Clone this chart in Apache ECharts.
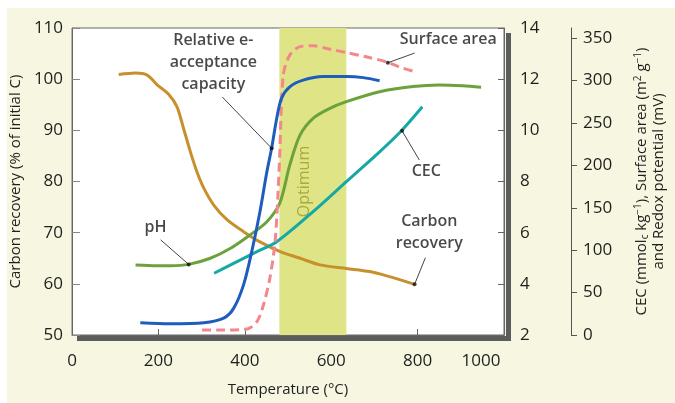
<!DOCTYPE html>
<html>
<head>
<meta charset="utf-8">
<script src="https://cdn.jsdelivr.net/npm/echarts@6/dist/echarts.min.js"></script>
<style>html,body{margin:0;padding:0;background:#fff}#c{width:675px;height:403px}</style>
</head>
<body>
<div id="c"></div>
<script>
// ---- data (temperature in °C) ----
var xTicks = [0, 200, 400, 600, 800, 1000];
var leftTicks = [50, 60, 70, 80, 90, 100, 110];
var phTicks = [2, 4, 6, 8, 10, 12, 14];
var rightTicks = [0, 50, 100, 150, 200, 250, 300, 350];

// Carbon recovery (% of initial C) - left axis
var carbonT = [108, 147, 174, 197, 224, 243, 258, 274, 289, 305, 328, 358, 397, 435, 482, 528, 574, 635, 689, 735, 793];
var carbonV = [100.9, 101.2, 100.8, 98.9, 97.0, 94.6, 90.4, 85.8, 81.9, 78.7, 75.4, 72.6, 70.2, 68.2, 66.3, 65.0, 63.7, 63.0, 62.4, 61.4, 59.9];

// pH - first right axis
var phT = [147, 197, 228, 270, 320, 366, 412, 451, 481, 504, 528, 558, 597, 635, 712, 789, 850, 904, 947];
var phV = [4.74, 4.71, 4.71, 4.76, 5.0, 5.38, 5.91, 6.43, 7.16, 8.64, 9.82, 10.47, 10.86, 11.12, 11.51, 11.71, 11.77, 11.74, 11.68];

// CEC (mmolc/kg) - second right axis
var cecT = [329, 382, 428, 474, 558, 635, 712, 762, 811];
var cecV = [72.8, 86.6, 98.4, 110, 145.4, 180.8, 216, 240.6, 269.2];

// Surface area (m2/g) - second right axis
var saT = [301, 343, 405, 428, 443, 458, 470, 477, 481, 489, 504, 528, 558, 597, 635, 681, 728, 758, 797];
var saV = [5.9, 5.9, 7.1, 15.7, 35.4, 67.2, 110, 169, 216, 306.6, 330, 340, 341, 337, 333, 328, 322, 316, 310];

// Relative e- acceptance capacity (drawn on left-axis scale)
var reaT = [158, 228, 305, 351, 374, 397, 416, 435, 451, 462, 474, 485, 504, 535, 581, 635, 674, 712];
var reaV = [52.4, 52.2, 52.4, 53.3, 55.2, 59.8, 66.3, 74.1, 81.9, 86.5, 92.4, 96.3, 98.5, 99.8, 100.5, 100.5, 100.3, 99.7];

// Optimum range
var optimum = [480, 635];

// Annotations (in temperature / left-axis units)
var annoText = ['Relative e-\nacceptance\ncapacity', 'Surface area', 'CEC', 'Carbon\nrecovery', 'pH'];
var annoPos = [[327, 103.2], [871, 107.7], [820, 81.9], [827, 70.0], [193, 71.1]];
var pointerFrom = [[348, 96.5], [793, 105.1], [804, 84.2], [818, 65.1], [205, 68.6]];
var pointerTo = [[462, 86.5], [731, 103.2], [764, 89.9], [793, 59.9], [270, 63.8]];

function zip(a, b) { return a.map(function (v, i) { return [v, b[i]]; }); }

var FONT = 'Open Sans';
var TXT = '#1e1e1e';
var chart = echarts.init(document.getElementById('c'));
var lineDefaults = { type: 'line', showSymbol: false, smooth: 0.3, z: 3 };

chart.setOption({
  backgroundColor: '#f7f6e1',
  animation: false,
  textStyle: { fontFamily: FONT },
  graphic: [
    { type: 'rect', left: 0, top: 0, shape: { width: 675, height: 8 }, style: { fill: '#fff' } },
    { type: 'rect', left: 0, top: 0, shape: { width: 7, height: 403 }, style: { fill: '#fff' } },
    // drop shadow of the plot frame (bottom and right strips)
    { type: 'rect', left: 77, top: 336, shape: { width: 434, height: 5 }, style: { fill: '#5c5c5c' } },
    { type: 'rect', left: 506, top: 33, shape: { width: 5, height: 308 }, style: { fill: '#5c5c5c' } }
  ],
  grid: {
    left: 72, right: 170, top: 28, bottom: 68,
    show: true, backgroundColor: '#fff', borderColor: '#666', borderWidth: 1
  },
  xAxis: {
    type: 'value', min: 0, max: 1000, interval: 200,
    name: 'Temperature (°C)', nameLocation: 'middle', nameGap: 47,
    nameTextStyle: { fontSize: 15, color: TXT, fontFamily: FONT },
    axisLine: { show: true, lineStyle: { color: '#666' } },
    axisTick: { show: true, inside: true, length: 6, lineStyle: { color: '#666' } },
    splitLine: { show: false },
    axisLabel: {
      margin: 18, fontSize: 17, color: TXT, fontFamily: FONT,
      formatter: function (v) { return v === 1000 ? '{s|1000}' : String(v); },
      rich: { s: { fontSize: 17, color: TXT, fontFamily: FONT, padding: [0, 46, 0, 0] } }
    }
  },
  yAxis: [
    {
      type: 'value', min: 50, max: 110, interval: 10, position: 'left',
      name: 'Carbon recovery (% of initial C)', nameLocation: 'middle', nameGap: 49,
      nameTextStyle: { fontSize: 15, color: TXT, fontFamily: FONT },
      axisLine: { show: true, lineStyle: { color: '#666' } },
      axisTick: { show: true, inside: true, length: 8, lineStyle: { color: '#888' } },
      splitLine: { show: false },
      axisLabel: { margin: 9, fontSize: 17, color: TXT, fontFamily: FONT }
    },
    {
      type: 'value', min: 2, max: 14, interval: 2, position: 'right', offset: 0,
      axisLine: { show: true, lineStyle: { color: '#666' } },
      axisTick: { show: true, inside: true, length: 6, lineStyle: { color: '#666' } },
      splitLine: { show: false },
      axisLabel: { margin: 16, fontSize: 17, color: TXT, fontFamily: FONT }
    },
    {
      type: 'value', min: 0, max: 362, position: 'right', offset: 67,
      name: 'CEC (mmol{sub|c} kg{sup|−1}), Surface area (m{sup|2} g{sup|−1})\nand Redox potential (mV)',
      nameLocation: 'middle', nameGap: 62, nameRotate: 90,
      nameTextStyle: {
        fontSize: 15, color: TXT, fontFamily: FONT, lineHeight: 17, align: 'center',
        rich: {
          sub: { fontSize: 10, color: TXT, fontFamily: FONT, verticalAlign: 'bottom', padding: [6, 0, 0, 0] },
          sup: { fontSize: 10, color: TXT, fontFamily: FONT, padding: [0, 0, 7, 0] }
        }
      },
      axisLine: { show: true, lineStyle: { color: '#555' } },
      axisTick: { show: true, inside: false, length: 6, customValues: rightTicks, lineStyle: { color: '#555' } },
      splitLine: { show: false },
      axisLabel: { margin: 12, fontSize: 17, color: TXT, fontFamily: FONT, customValues: rightTicks }
    }
  ],
  series: [
    Object.assign({}, lineDefaults, {
      name: 'Carbon recovery', yAxisIndex: 0, data: zip(carbonT, carbonV),
      lineStyle: { color: '#c8902c', width: 3 }, itemStyle: { color: '#c8902c' },
      markArea: {
        silent: true, z: 1,
        itemStyle: { color: '#dfe487' },
        label: { show: true, position: 'inside', rotate: 90, offset: [0, -8], color: '#a9ab3c', fontSize: 16, fontFamily: FONT, formatter: 'Optimum' },
        data: [[{ xAxis: optimum[0] }, { xAxis: optimum[1] }]]
      }
    }),
    Object.assign({}, lineDefaults, {
      name: 'pH', yAxisIndex: 1, data: zip(phT, phV),
      lineStyle: { color: '#6ba23c', width: 3 }, itemStyle: { color: '#6ba23c' }
    }),
    Object.assign({}, lineDefaults, {
      name: 'CEC', yAxisIndex: 2, data: zip(cecT, cecV),
      lineStyle: { color: '#17a8a6', width: 3 }, itemStyle: { color: '#17a8a6' }
    }),
    Object.assign({}, lineDefaults, {
      name: 'Surface area', yAxisIndex: 2, data: zip(saT, saV),
      lineStyle: { color: '#f4878b', width: 3, type: [9, 5] }, itemStyle: { color: '#f4878b' }
    }),
    Object.assign({}, lineDefaults, {
      name: 'Relative e- acceptance capacity', yAxisIndex: 0, data: zip(reaT, reaV),
      lineStyle: { color: '#1f5dbd', width: 3 }, itemStyle: { color: '#1f5dbd' }
    }),
    {
      type: 'lines', coordinateSystem: 'cartesian2d', xAxisIndex: 0, yAxisIndex: 0, z: 5, silent: true,
      lineStyle: { color: '#444', width: 1, opacity: 1 },
      data: pointerFrom.map(function (p, i) { return { coords: [p, pointerTo[i]] }; })
    },
    {
      type: 'scatter', yAxisIndex: 0, z: 6, silent: true, symbolSize: 4,
      itemStyle: { color: '#111' }, data: pointerTo
    },
    {
      type: 'scatter', yAxisIndex: 0, z: 6, silent: true, symbolSize: 0,
      data: annoPos.map(function (p, i) { return { value: p, name: annoText[i] }; }),
      label: {
        show: true, position: 'inside', formatter: '{b}', color: '#1a1a1a',
        fontSize: 16, fontWeight: 600, fontFamily: FONT, lineHeight: 22, align: 'center'
      }
    }
  ]
});
</script>
</body>
</html>
